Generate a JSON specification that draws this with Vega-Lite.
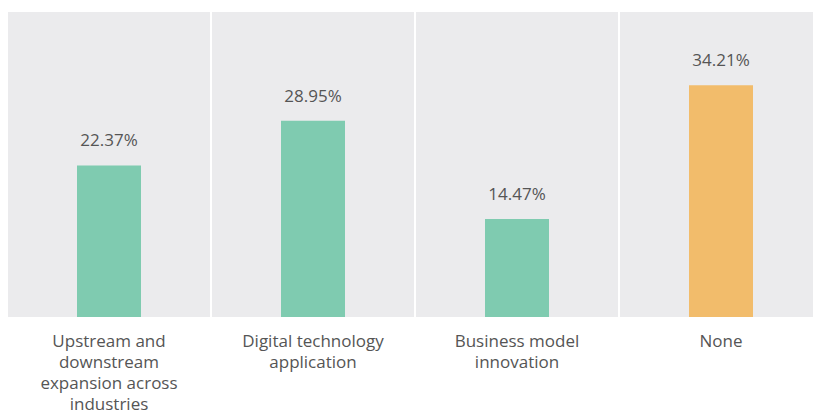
{
  "$schema": "https://vega.github.io/schema/vega-lite/v6.json",
  "padding": {"left": 8, "top": 12, "right": 0, "bottom": 0},
  "autosize": {"type": "pad"},
  "background": "white",
  "data": {"values": [
    {"category": "Upstream and downstream expansion across industries", "value": 0.2237},
    {"category": "Digital technology application", "value": 0.2895},
    {"category": "Business model innovation", "value": 0.1447},
    {"category": "None", "value": 0.3421}
  ]},
  "spacing": 2,
  "facet": {
    "column": {
      "field": "category", "type": "nominal",
      "sort": ["Upstream and downstream expansion across industries", "Digital technology application", "Business model innovation", "None"],
      "header": {
        "title": null,
        "labelOrient": "bottom",
        "labelPadding": 17,
        "labelBaseline": "top",
        "labelFont": "Open Sans",
        "labelFontSize": 17,
        "labelColor": "#555555",
        "labelLineHeight": 21,
        "labelExpr": "datum.value == 'Upstream and downstream expansion across industries' ? ['Upstream and', 'downstream', 'expansion across', 'industries'] : datum.value == 'Digital technology application' ? ['Digital technology', 'application'] : datum.value == 'Business model innovation' ? ['Business model', 'innovation'] : datum.value"
      }
    }
  },
  "spec": {
    "width": 202,
    "height": 305,
    "encoding": {
      "x": {"field": "category", "type": "nominal", "axis": null},
      "y": {"field": "value", "type": "quantitative", "scale": {"domain": [0, 0.45]}, "axis": null}
    },
    "layer": [
      {
        "mark": {"type": "bar", "width": 64},
        "encoding": {
          "color": {
            "field": "category", "type": "nominal", "legend": null,
            "scale": {
              "domain": ["Upstream and downstream expansion across industries", "Digital technology application", "Business model innovation", "None"],
              "range": ["#7fcbb0", "#7fcbb0", "#7fcbb0", "#f2bc6b"]
            }
          }
        }
      },
      {
        "mark": {"type": "text", "dy": -19, "baseline": "alphabetic", "font": "Open Sans", "fontSize": 17, "color": "#555555"},
        "encoding": {"text": {"field": "value", "type": "quantitative", "format": ".2%"}}
      }
    ]
  },
  "resolve": {"scale": {"x": "independent"}},
  "config": {"view": {"fill": "#ebebed", "stroke": null}}
}
